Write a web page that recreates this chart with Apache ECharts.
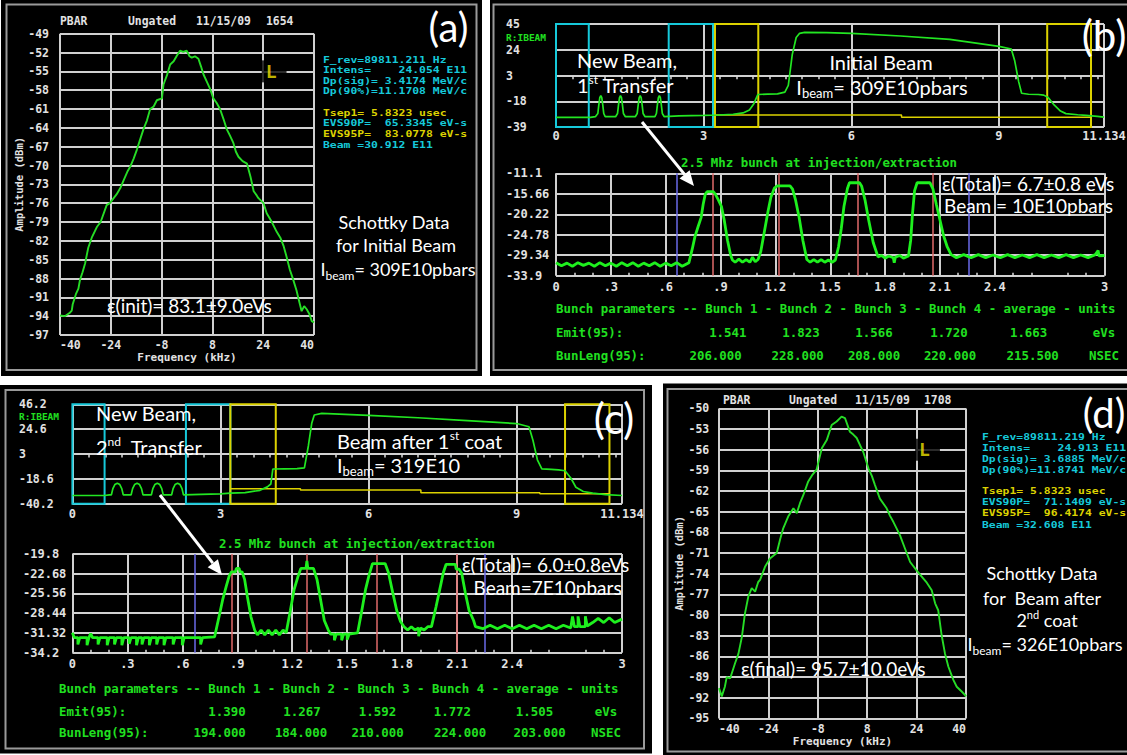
<!DOCTYPE html>
<html>
<head>
<meta charset="utf-8">
<title>Schottky and bunch monitor</title>
<script src="https://cdn.jsdelivr.net/npm/echarts@6/dist/echarts.min.js"></script>
<style>
  html, body { margin: 0; padding: 0; background: #ffffff; }
  #chart { width: 1127px; height: 755px; }
</style>
</head>
<body>
<div id="chart"></div>
<script>
// ---------- Schottky spectra: [frequency kHz, amplitude dBm] ----------
const schottkyInit = [[-40,-93.9],[-38.5,-94.0],[-37,-93.5],[-36.3,-93.1],[-36,-92.1],[-35,-90.5],[-34.2,-89.6],[-33.7,-88.2],[-32.9,-87.0],[-32.1,-85.6],[-31.1,-83.1],[-30,-81.5],[-28.4,-79.8],[-27.2,-79.0],[-25.3,-76.3],[-24.3,-76.0],[-22.2,-74.6],[-21,-73.6],[-20,-72.4],[-18.8,-71.0],[-17.9,-70.2],[-16.8,-68.9],[-15.8,-67.5],[-14.6,-65.6],[-13.7,-64.2],[-12.6,-62.8],[-11.6,-61.0],[-10.5,-60.6],[-9.5,-59.6],[-7.9,-59.3],[-7.4,-57.1],[-6.3,-55.6],[-5.3,-53.9],[-4.2,-53.4],[-3.2,-52.5],[-2.2,-51.7],[-1.2,-51.9],[-0.1,-51.7],[0.8,-52.6],[1.5,-52.8],[2.5,-52.6],[3.6,-53.0],[4.4,-54.2],[5.2,-55.5],[6.2,-56.6],[7.2,-57.7],[8.3,-59.3],[9.3,-60.0],[10.4,-61.0],[11.5,-62.6],[12.5,-64.2],[13.5,-65.2],[14.6,-66.4],[15.4,-67.8],[16.2,-68.6],[17.5,-69.3],[18.9,-69.7],[20,-71.8],[21,-74.1],[22,-74.8],[22.5,-75.2],[23.3,-75.6],[24.1,-76.0],[25.1,-77.6],[26.5,-78.8],[28.3,-80.6],[29.4,-81.5],[30.4,-82.8],[31.4,-84.6],[32.4,-86.6],[33.4,-88.1],[34.5,-89.9],[35.3,-91.6],[36.1,-93.2],[36.9,-92.4],[37.7,-92.9],[38.5,-93.6],[39.3,-94.8],[40,-95.0]];

const schottkyFinal = [[-40,-90.6],[-39.1,-91.8],[-38.1,-90.4],[-37.5,-89.0],[-36.4,-89.2],[-34.8,-87.0],[-33.7,-85.6],[-32.6,-83.2],[-31.6,-79.8],[-30.5,-77.3],[-29.4,-76.1],[-28.3,-76.6],[-27.3,-75.2],[-26.7,-74.9],[-25.1,-73.0],[-23.5,-71.8],[-21.3,-71.0],[-20.2,-69.0],[-19.2,-67.4],[-17.6,-65.7],[-15.9,-64.5],[-14.8,-65.2],[-13.8,-63.8],[-12.7,-62.6],[-11.1,-60.6],[-9.7,-59.6],[-8.4,-58.9],[-6.7,-55.8],[-5.1,-54.6],[-3.5,-52.4],[-1.9,-51.9],[-0.3,-51.2],[0.8,-51.4],[2.4,-53.4],[3.5,-53.8],[4.6,-54.3],[6.7,-56.3],[8.4,-58.7],[9.5,-59.8],[10.5,-61.1],[12.1,-63.1],[14.3,-64.5],[15.4,-65.6],[16.5,-66.5],[18.6,-68.4],[20.2,-70.3],[21.9,-72.3],[24.0,-73.5],[26.2,-74.7],[27.3,-75.3],[28.9,-76.4],[30.0,-78.3],[31.0,-79.3],[32.1,-82.9],[33.2,-85.6],[34.3,-87.5],[35.9,-89.4],[37.0,-90.4],[38.6,-91.1],[39.7,-91.6],[40,-91.8]];

// cursor "L" position on both spectra [kHz, dBm]
const cursorInit = [24, -55];
const cursorFinal = [24, -56];

// ---------- R:IBEAM traces: [time, level] ----------
const ibeamB = [[0,-31.1],[0.7,-31.1],[0.8,-30.6],[0.85,-28],[0.87,-21],[0.89,-15],[0.91,-13.5],[0.93,-15],[0.95,-21],[0.97,-28],[1.0,-30.6],
  [1.21,-30.6],[1.25,-28],[1.27,-21],[1.29,-15],[1.31,-13.5],[1.33,-15],[1.35,-21],[1.37,-28],[1.41,-30.6],
  [1.61,-30.6],[1.65,-28],[1.67,-21],[1.69,-15],[1.71,-13.5],[1.73,-15],[1.75,-21],[1.77,-28],[1.81,-30.6],
  [2.01,-30.6],[2.04,-28],[2.06,-21],[2.08,-15],[2.10,-13.5],[2.12,-15],[2.14,-21],[2.16,-28],[2.2,-30.6],
  [2.5,-30.0],[3.0,-29.6],[3.3,-29.2],[3.6,-28.6],[3.8,-27.5],[3.93,-25.1],[4.02,-20],[4.1,-12.5],[4.3,-12.2],[4.5,-12.0],[4.65,-10.5],[4.72,-5],[4.8,20],[4.88,34],[4.95,37.4],[5.05,38.2],[5.5,38.0],[6,37.4],[7,35.2],[8,32.5],[9,26.8],[9.25,24.6],[9.32,15],[9.4,-2],[9.46,-11.5],[9.6,-12.3],[9.8,-12.5],[9.91,-13],[10.0,-15],[10.12,-21],[10.25,-26],[10.36,-28.1],[10.6,-29],[10.77,-29.5],[11.0,-30.3],[11.134,-31]];
const gateLevelB = [[3.23,-29.2],[7.02,-29.2],[7.02,-31.1],[10.87,-31.1]];
const cyanGatesB = [[0, 0.666], [2.29, 3.19]];
const yellowGatesB = [[3.23, 4.11], [9.98, 10.87]];

const ibeamC = [[0,-33.0],[0.65,-33.0],[0.75,-32.4],[0.79,-32.4],[0.82,-27],[0.86,-23.5],[0.91,-22.3],[0.96,-23.5],[1.0,-27],[1.03,-32.4],
  [1.19,-32.4],[1.22,-27],[1.26,-23.5],[1.31,-22.3],[1.36,-23.5],[1.40,-27],[1.43,-32.4],
  [1.60,-32.4],[1.63,-27],[1.67,-23.5],[1.72,-22.3],[1.77,-23.5],[1.81,-27],[1.84,-32.4],
  [2.01,-32.4],[2.04,-27],[2.08,-23.5],[2.13,-22.3],[2.18,-23.5],[2.22,-27],[2.25,-32.4],
  [2.6,-32.0],[3.0,-31.6],[3.2,-31.0],[3.5,-30.5],[3.8,-28.5],[3.95,-25.5],[4.02,-23],[4.06,-10],[4.3,-9.8],[4.55,-9.6],[4.7,-9],[4.78,10],[4.85,30],[4.9,36.9],[5.05,38.3],[6,36.5],[7,34.5],[8,32],[9,29.5],[9.25,26.7],[9.33,15],[9.42,-2],[9.51,-9.8],[9.7,-10.3],[9.85,-10.8],[9.98,-11.5],[10.1,-18],[10.2,-25.8],[10.35,-29.5],[10.54,-31],[10.8,-32.2],[11.134,-33]];
const gateLevelC = [[3.2,-27.1],[4.62,-27.1],[4.62,-28.3],[7.06,-28.3],[7.06,-30.6],[9.47,-30.6],[9.47,-31.4],[10.88,-31.4]];
const cyanGatesC = [[0, 0.652], [2.30, 3.20]];
const yellowGatesC = [[3.20, 4.12], [9.98, 10.88]];

// ---------- 2.5 MHz bunch profiles: [time, level] ----------
const bunchB = [[0,-31.0],[0.03,-31.7],[0.06,-31.1],[0.09,-31.8],[0.12,-31.0],[0.15,-31.6],[0.18,-31.1],[0.21,-31.8],[0.24,-31.0],[0.27,-31.7],[0.30,-31.1],[0.33,-31.8],[0.36,-31.0],[0.39,-31.7],[0.42,-31.0],[0.45,-31.8],[0.48,-31.1],[0.51,-31.7],[0.54,-31.0],[0.57,-31.8],[0.60,-31.1],[0.63,-31.7],[0.66,-31.0],[0.69,-31.8],[0.727,-31.0],
  [0.745,-28],[0.76,-25.2],[0.777,-23],[0.794,-20.9],[0.805,-18],[0.816,-15.8],[0.826,-15.2],[0.86,-15.2],[0.872,-15.8],[0.888,-17],[0.905,-18.5],[0.92,-21.5],[0.938,-26],[0.955,-29.3],[0.965,-30.4],
  [0.98,-30.9],[1.0,-30.2],[1.02,-30.9],[1.04,-30.3],[1.06,-30.9],[1.075,-29.8],[1.09,-30.8],[1.105,-30.3],
  [1.12,-28.5],[1.14,-24],[1.16,-19.5],[1.175,-16.5],[1.194,-14.4],[1.21,-13.9],[1.28,-13.9],[1.294,-14.6],[1.31,-17],[1.33,-21],[1.35,-26],[1.372,-30.3],
  [1.39,-30.9],[1.41,-30.3],[1.43,-30.9],[1.45,-30.3],[1.47,-30.9],[1.49,-30.4],[1.51,-30.9],[1.528,-30.4],
  [1.545,-27.5],[1.56,-23.5],[1.575,-18.5],[1.594,-14.5],[1.605,-13.2],[1.66,-13.2],[1.672,-14],[1.69,-17],[1.71,-21.5],[1.735,-26.5],[1.761,-29.7],
  [1.78,-29.4],[1.8,-30.0],[1.82,-29.5],[1.845,-29.9],[1.85,-31.0],[1.856,-29.8],[1.88,-29.4],[1.9,-30.0],[1.928,-29.5],
  [1.94,-26],[1.95,-20],[1.961,-15],[1.975,-13.2],[2.045,-13.2],[2.061,-14.5],[2.08,-18],[2.1,-21.5],[2.12,-25],[2.14,-27.5],[2.161,-29.2],
  [2.19,-29.9],[2.23,-29.2],[2.27,-29.9],[2.31,-29.2],[2.35,-29.9],[2.39,-29.3],[2.43,-29.9],[2.47,-29.2],[2.51,-29.9],[2.55,-29.3],[2.59,-29.9],[2.63,-29.2],[2.67,-29.9],[2.71,-29.3],[2.75,-29.9],[2.79,-29.2],[2.83,-29.9],[2.87,-29.3],[2.91,-29.9],[2.95,-29.2],[2.965,-28.3],[2.97,-29.5],[3.0,-29.4]];
const bunchCentersB = [0.861, 1.221, 1.646, 2.057];
const bunchWindowB = [0.660, 2.257];

const bunchC = [[0,-31.3],[0.01,-32.0],[0.03,-32.0],[0.03,-33.0],[0.04,-32.0],[0.08,-32.0],[0.08,-33.1],[0.09,-32.0],[0.1,-31.4],[0.11,-32.0],[0.14,-32.0],[0.14,-33.0],[0.15,-32.0],[0.19,-32.0],[0.19,-33.1],[0.2,-32.0],[0.23,-32.0],[0.23,-33.0],[0.24,-32.0],[0.27,-32.0],[0.27,-33.1],[0.28,-32.0],[0.31,-32.0],[0.31,-32.9],[0.32,-32.0],[0.35,-32.0],[0.35,-33.1],[0.36,-32.0],[0.38,-32.0],[0.38,-33.0],[0.39,-32.0],[0.42,-32.0],[0.42,-33.1],[0.43,-32.0],[0.46,-32.0],[0.46,-33.0],[0.47,-32.0],[0.5,-32.0],[0.5,-33.1],[0.51,-32.0],[0.55,-32.0],[0.55,-33.0],[0.56,-32.0],[0.6,-32.0],[0.6,-33.1],[0.61,-32.0],[0.7,-32.0],[0.7,-33.0],[0.71,-32.0],[0.776,-31.9],
  [0.80,-29],[0.82,-26.5],[0.84,-24.5],[0.856,-23],[0.868,-22.4],[0.89,-22.4],[0.895,-21.9],[0.91,-21.9],[0.915,-22.4],[0.926,-22.4],[0.94,-23.5],[0.955,-26],[0.975,-29],[0.995,-30.9],
  [1.01,-31.6],[1.03,-30.9],[1.05,-31.6],[1.07,-30.9],[1.09,-31.6],[1.11,-30.9],[1.13,-31.6],[1.15,-30.9],[1.167,-31.3],
  [1.19,-28],[1.21,-25],[1.23,-23.2],[1.247,-21.9],[1.275,-21.9],[1.28,-20.8],[1.285,-21.9],[1.316,-21.9],[1.335,-23.5],[1.355,-26.5],[1.375,-29.5],[1.397,-30.9],
  [1.41,-31.5],[1.43,-31.5],[1.43,-32.4],[1.44,-31.5],[1.47,-31.5],[1.47,-32.4],[1.48,-31.5],[1.5,-31.5],[1.5,-32.3],[1.51,-31.5],[1.557,-31.3],
  [1.58,-28],[1.6,-25],[1.62,-22.8],[1.638,-21.2],[1.707,-21.2],[1.725,-22.5],[1.745,-25],[1.77,-28],[1.79,-29.6],[1.81,-30.4],
  [1.83,-30.9],[1.85,-30.4],[1.87,-30.9],[1.89,-30.6],[1.89,-31.8],[1.9,-30.6],[1.92,-30.9],[1.94,-30.4],[1.96,-30.4],
  [1.985,-27.5],[2.005,-25],[2.025,-22.5],[2.04,-21.3],[2.09,-21.3],[2.095,-22.0],[2.11,-22.0],[2.125,-22.6],[2.145,-25.5],[2.165,-28],[2.19,-29.5],[2.2,-30.4],
  [2.24,-30.7],[2.28,-30.2],[2.32,-30.7],[2.36,-30.2],[2.4,-30.7],[2.44,-30.2],[2.48,-30.7],[2.52,-30.2],[2.56,-30.7],[2.6,-30.2],[2.64,-30.7],[2.68,-30.2],[2.72,-30.6],[2.73,-28.9],[2.74,-30.4],[2.76,-30.4],[2.76,-28.9],[2.77,-30.4],[2.8,-30.4],[2.8,-28.9],[2.81,-30.3],[2.84,-29.8],[2.87,-29.2],[2.9,-29.8],[2.93,-29.1],[2.96,-29.8],[3.0,-29.3]];
const bunchCentersC = [0.868, 1.282, 1.656, 2.104];
const bunchWindowC = [0.669, 2.254];

// bunch-plot grid columns (no line at 2.7)
const bunchGridX = [0, 0.3, 0.6, 0.9, 1.2, 1.5, 1.8, 2.1, 2.4, 3];

// ---------- bunch parameter tables ----------
const tableHeader = 'Bunch parameters -- Bunch 1 - Bunch 2 - Bunch 3 - Bunch 4 - average - units';
const emitB = ['1.541', '1.823', '1.566', '1.720', '1.663'];
const lengthB = ['206.000', '228.000', '208.000', '220.000', '215.500'];
const emitC = ['1.390', '1.267', '1.592', '1.772', '1.505'];
const lengthC = ['194.000', '184.000', '210.000', '224.000', '203.000'];

// ---------- monitor readouts ----------
const readoutInit = ['F_rev=89811.211 Hz', 'Intens=    24.054 E11', 'Dp(sig)= 3.4174 MeV/c', 'Dp(90%)=11.1708 MeV/c', 'Tsep1= 5.8323 usec', 'EVS90P=  65.3345 eV-s', 'EVS95P=  83.0778 eV-s', 'Beam =30.912 E11'];
const readoutFinal = ['F_rev=89811.219 Hz', 'Intens=    24.913 E11', 'Dp(sig)= 3.6885 MeV/c', 'Dp(90%)=11.8741 MeV/c', 'Tsep1= 5.8323 usec', 'EVS90P=  71.1409 eV-s', 'EVS95P=  96.4174 eV-s', 'Beam =32.608 E11'];

// ---------- styling ----------
const MONO = "'DejaVu Sans Mono', monospace";
const SANS = "Lato, 'Noto Sans', sans-serif";
const LABEL = '#e2e2e2';
const GRID = '#d0d0d0';
const CURVE = '#26dc26';
const TRACE = '#22e622';
const BUNCH = '#1ef01e';
const TGREEN = '#20e020';
const CYAN = '#16c9da';
const YELLOW = '#dcd200';
const RED = '#e06a6a';
const BLUE = '#6a6ae8';

function lab(size, extra) {
  return Object.assign({ color: LABEL, fontFamily: MONO, fontWeight: 'bold', fontSize: size }, extra || {});
}
function round(v, d) { const p = Math.pow(10, d); return String(Math.round(v * p) / p); }

function freqXAxis(gi, margin, nameGap) {
  return {
    gridIndex: gi, type: 'value', min: -40, max: 40, interval: 16,
    axisLine: { show: false }, axisTick: { show: false },
    splitLine: { show: true, lineStyle: { color: GRID, width: 2 } },
    axisLabel: lab(11.5, { margin: margin, alignMinLabel: 'left', alignMaxLabel: 'right' }),
    name: 'Frequency (kHz)', nameLocation: 'middle', nameGap: nameGap, nameTextStyle: lab(11)
  };
}
function ampYAxis(gi, min, max, margin, nameGap) {
  return {
    gridIndex: gi, type: 'value', min: min, max: max, interval: 3,
    axisLine: { show: false }, axisTick: { show: false },
    splitLine: { show: true, lineStyle: { color: GRID, width: 2 } },
    axisLabel: lab(11.5, { margin: margin }),
    name: 'Amplitude (dBm)', nameLocation: 'middle', nameRotate: 90, nameGap: nameGap, nameTextStyle: lab(10.5)
  };
}
function timeXAxis(gi, margin) {
  return {
    gridIndex: gi, type: 'value', min: 0, max: 11.134, interval: 3,
    axisLine: { show: false }, axisTick: { show: false, inside: true },
    minorTick: { show: true, splitNumber: 9, length: 3, lineStyle: { color: '#dddddd', width: 1.5 } },
    splitLine: { show: true, lineStyle: { color: GRID, width: 2 } },
    axisLabel: lab(12, { margin: margin, formatter: v => round(v, 3) })
  };
}
function bunchXAxis(gi, margin) {
  return {
    gridIndex: gi, type: 'value', min: 0, max: 3, interval: 0.3,
    axisLine: { show: false }, axisTick: { show: false, inside: true },
    minorTick: { show: true, splitNumber: 3, length: 3, lineStyle: { color: '#dddddd', width: 1.5 } },
    splitLine: { show: false },
    axisLabel: lab(12, {
      margin: margin,
      formatter: v => {
        const r = Math.round(v * 10) / 10;
        if (Math.abs(r - 2.7) < 1e-6) return '';
        return (r > 0 && r < 1) ? String(r).slice(1) : String(r);
      }
    })
  };
}
function levelYAxis(gi, min, max, interval, margin, digits, size) {
  return {
    gridIndex: gi, type: 'value', min: min, max: max, interval: interval,
    axisLine: { show: false }, axisTick: { show: false },
    splitLine: { show: true, lineStyle: { color: GRID, width: 2 } },
    axisLabel: lab(size || 12, { margin: margin, align: 'left', formatter: v => round(v, digits) })
  };
}

function line(gi, data, color, width, z) {
  return {
    type: 'line', xAxisIndex: gi, yAxisIndex: gi, data: data,
    symbol: 'none', showSymbol: false, silent: true, z: z || 3,
    lineStyle: { color: color, width: width }, itemStyle: { color: color },
    emphasis: { disabled: true }, animation: false
  };
}
function cursor(gi, point) {
  return {
    type: 'scatter', xAxisIndex: gi, yAxisIndex: gi, data: [point], z: 6, silent: true,
    symbolSize: 1, itemStyle: { color: 'rgba(0,0,0,0)' }, animation: false,
    label: {
      show: true, position: 'right', distance: -2, formatter: 'L',
      color: '#f2e600', fontFamily: MONO, fontWeight: 'bold', fontSize: 18,
      backgroundColor: '#000000', padding: [2, 10, 2, 4]
    }
  };
}
function gates(cyanGates, yellowGates) {
  const box = (g, c) => [{ xAxis: g[0], itemStyle: { color: 'rgba(0,0,0,0)', borderColor: c, borderWidth: 2 } }, { xAxis: g[1] }];
  return {
    silent: true, z: 1, label: { show: false },
    data: cyanGates.map(g => box(g, CYAN)).concat(yellowGates.map(g => box(g, YELLOW)))
  };
}
function bunchMarks(centers, windowEdges) {
  const v = (x, c, w) => ({ xAxis: x, lineStyle: { color: c, width: w, type: 'solid' } });
  return {
    silent: true, z: 1, symbol: 'none', label: { show: false }, animation: false,
    data: bunchGridX.map(x => v(x, GRID, 2))
      .concat(windowEdges.map(x => v(x, BLUE, 1.5)))
      .concat(centers.map(x => v(x, RED, 1.5)))
  };
}

// ---------- overlay graphics ----------
function rect(x, y, w, h) {
  return { type: 'rect', z: -20, silent: true, shape: { x: x, y: y, width: w, height: h }, style: { fill: '#000000' } };
}
function frame(x, y, w, h) {
  return { type: 'rect', z: -10, silent: true, shape: { x: x, y: y, width: w, height: h }, style: { fill: 'none', stroke: '#9a9a9a', lineWidth: 2 } };
}
function txt(x, y, text, o) {
  const s = Object.assign({
    text: text, fill: '#ffffff', fontFamily: SANS, fontSize: 18, fontWeight: 'normal',
    align: 'left', textAlign: 'left', verticalAlign: 'middle', textVerticalAlign: 'middle'
  }, o || {});
  if (o && o.align) s.textAlign = o.align;
  return { type: 'text', x: x, y: y, z: 50, silent: true, style: s };
}
function mono(x, y, text, color, size, align) {
  return txt(x, y, text, { fill: color, fontFamily: MONO, fontWeight: 'bold', fontSize: size || 11, align: align || 'left' });
}
function arrow(x1, y1, x2, y2) {
  const dx = x2 - x1, dy = y2 - y1, L = Math.sqrt(dx * dx + dy * dy);
  const ux = dx / L, uy = dy / L, hl = 15, hw = 6.5;
  const bx = x2 - ux * hl, by = y2 - uy * hl;
  return [
    { type: 'line', z: 55, silent: true, shape: { x1: x1, y1: y1, x2: bx, y2: by }, style: { stroke: '#ffffff', lineWidth: 3 } },
    { type: 'polygon', z: 55, silent: true, shape: { points: [[x2, y2], [bx - uy * hw, by + ux * hw], [bx + uy * hw, by - ux * hw]] }, style: { fill: '#ffffff' } }
  ];
}
function richText(x, y, text, size, align) {
  return {
    type: 'text', x: x, y: y, z: 50, silent: true,
    style: {
      text: text, align: align, textAlign: align, verticalAlign: 'middle', textVerticalAlign: 'middle',
      fill: '#ffffff', fontFamily: SANS, fontSize: size,
      rich: {
        n: { fill: '#ffffff', fontFamily: SANS, fontSize: size },
        s: { fill: '#ffffff', fontFamily: SANS, fontSize: Math.round(size * 0.66), padding: [12, 0, 0, 0] },
        p: { fill: '#ffffff', fontFamily: SANS, fontSize: Math.round(size * 0.62), padding: [0, 0, 11, 0] }
      }
    }
  };
}
// monitor readout lines: the wide, short CRT glyphs are a compact mono font stretched sideways
function readout(x, y0, lines, step) {
  const colors = [CYAN, CYAN, CYAN, CYAN, YELLOW, CYAN, YELLOW, CYAN];
  const rows = [0, 1, 2, 3, 5, 6, 7, 8.1];
  return lines.map((t, i) => Object.assign(mono(x, y0 + rows[i] * step, t, colors[i], 9.2), { scaleX: 1.24, scaleY: 1 }));
}
function table(x, yHead, yEmit, yLen, emit, len, emitX, lenX, unitX) {
  const out = [mono(x, yHead, tableHeader, TGREEN, 12.4), mono(x, yEmit, 'Emit(95):', TGREEN, 12.4), mono(x, yLen, 'BunLeng(95):', TGREEN, 12.4)];
  emit.forEach((t, i) => out.push(mono(emitX[i], yEmit, t, TGREEN, 12.4, 'center')));
  len.forEach((t, i) => out.push(mono(lenX[i], yLen, t, TGREEN, 12.4, 'center')));
  out.push(mono(unitX, yEmit, 'eVs', TGREEN, 12.4, 'center'));
  out.push(mono(unitX, yLen, 'NSEC', TGREEN, 12.4, 'center'));
  return out;
}

const graphics = [
  rect(1, 0, 481, 376), rect(490, 0, 637, 376), rect(0, 385, 652, 368.5), rect(663, 383.5, 464, 371.5),
  frame(6.5, 4.5, 470, 365.5), frame(493.5, 4.5, 660, 365.5), frame(5.5, 390, 638.5, 358.5), frame(667.5, 389, 500, 362.5),

  // panel (a)
  mono(60, 21, 'PBAR', LABEL, 11.4), mono(128, 21, 'Ungated', LABEL, 11.4), mono(196, 21, '11/15/09', LABEL, 11.4), mono(266, 21, '1654', LABEL, 11.4),
  txt(448.5, 27, '(a)', { fontSize: 40, align: 'center' }),
  ...readout(323, 59, readoutInit, 10.6),
  txt(394, 222, 'Schottky Data', { align: 'center' }),
  txt(396, 245, 'for Initial Beam', { align: 'center' }),
  richText(398, 269, '{n|I}{s|beam}{n|= 309E10pbars}', 18, 'center'),
  txt(107, 305, 'ε(init)= 83.1±9.0eVs', { fontSize: 19 }),

  // panel (b)
  mono(506, 37.5, 'R:IBEAM', TGREEN, 9.5),
  txt(1104, 35, '(b)', { fontSize: 42, align: 'center' }),
  txt(577, 60, 'New Beam,', { fontSize: 20 }),
  richText(577, 85, '{n|1}{p|st}{n| Transfer}', 20, 'left'),
  txt(881, 62, 'Initial Beam', { fontSize: 20, align: 'center' }),
  richText(882, 87, '{n|I}{s|beam}{n|= 309E10pbars}', 20, 'center'),
  ...arrow(642, 122, 694, 186),
  mono(819, 162, '2.5 Mhz bunch at injection/extraction', TGREEN, 12.4, 'center'),
  txt(942, 183, 'ε(Total)= 6.7±0.8 eVs', { fontSize: 19 }),
  txt(944, 205, 'Beam = 10E10pbars', { fontSize: 19 }),
  ...table(556, 308, 332, 355, emitB, lengthB, [727.8, 801, 874, 949, 1028.6], [715.6, 797.7, 874, 950, 1032.7], 1104),

  // panel (c)
  mono(19, 416.5, 'R:IBEAM', TGREEN, 9.5),
  txt(614, 418, '(c)', { fontSize: 42, align: 'center' }),
  txt(96, 413, 'New Beam,', { fontSize: 20 }),
  richText(96, 447, '{n|2}{p|nd}{n|  Transfer}', 20, 'left'),
  richText(337, 441, '{n|Beam after 1}{p|st}{n| coat}', 20, 'left'),
  richText(337, 465, '{n|I}{s|beam}{n|= 319E10}', 20, 'left'),
  ...arrow(160, 495, 222, 575),
  mono(357, 543, '2.5 Mhz bunch at injection/extraction', TGREEN, 12.4, 'center'),
  txt(462, 564, 'ε(Total)= 6.0±0.8eVs', { fontSize: 19 }),
  txt(473.5, 587, 'Beam=7E10pbars', { fontSize: 19 }),
  ...table(59, 688, 711, 732.5, emitC, lengthC, [227, 302, 377.5, 452.4, 534.5], [219.7, 301, 377.5, 460, 539.6], 606),

  // panel (d)
  mono(723, 400, 'PBAR', LABEL, 11.4), mono(789, 400, 'Ungated', LABEL, 11.4), mono(855, 400, '11/15/09', LABEL, 11.4), mono(924, 400, '1708', LABEL, 11.4),
  txt(1104, 413, '(d)', { fontSize: 40, align: 'center' }),
  ...readout(982, 436.7, readoutFinal, 10.8),
  txt(1042, 573, 'Schottky Data', { align: 'center' }),
  txt(1042, 598, 'for  Beam after', { align: 'center' }),
  richText(1047, 620, '{n|2}{p|nd}{n| coat}', 18, 'center'),
  richText(1045, 644, '{n|I}{s|beam}{n|= 326E10pbars}', 18, 'center'),
  txt(741, 668, 'ε(final)= 95.7±10.0eVs', { fontSize: 19 })
];

const option = {
  backgroundColor: '#ffffff',
  animation: false,
  textStyle: { fontFamily: MONO },
  grid: [
    { left: 60, top: 33.7, width: 254, height: 301.3, outerBoundsMode: 'none' },
    { left: 556, top: 24, width: 548, height: 103, outerBoundsMode: 'none' },
    { left: 556, top: 173.3, width: 548.5, height: 102.4, outerBoundsMode: 'none' },
    { left: 72.4, top: 404.3, width: 549.6, height: 99.5, outerBoundsMode: 'none' },
    { left: 72.4, top: 554, width: 549.6, height: 98.7, outerBoundsMode: 'none' },
    { left: 719, top: 408.4, width: 247, height: 310, outerBoundsMode: 'none' }
  ],
  xAxis: [
    freqXAxis(0, 4, 16),
    timeXAxis(1, 3),
    bunchXAxis(2, 5),
    timeXAxis(3, 4),
    bunchXAxis(4, 5),
    freqXAxis(5, 4.5, 18)
  ],
  yAxis: [
    ampYAxis(0, -97, -49, 11, 36),
    levelYAxis(1, -39, 45, 21, 50, 0, 11.5),
    levelYAxis(2, -33.9, -11.1, 4.56, 50, 2),
    levelYAxis(3, -40.2, 46.2, 21.6, 53.4, 1, 11.5),
    levelYAxis(4, -34.2, -19.8, 2.88, 49.4, 2),
    ampYAxis(5, -95, -50, 9.7, 35)
  ],
  series: [
    line(0, schottkyInit, CURVE, 1.9),
    cursor(0, cursorInit),
    Object.assign(line(1, ibeamB, TRACE, 1.7), { markArea: gates(cyanGatesB, yellowGatesB) }),
    line(1, gateLevelB, YELLOW, 1.5, 2),
    Object.assign(line(2, bunchB, BUNCH, 2.8), { markLine: bunchMarks(bunchCentersB, bunchWindowB) }),
    Object.assign(line(3, ibeamC, TRACE, 1.7), { markArea: gates(cyanGatesC, yellowGatesC) }),
    line(3, gateLevelC, YELLOW, 1.5, 2),
    Object.assign(line(4, bunchC, BUNCH, 2.8), { markLine: bunchMarks(bunchCentersC, bunchWindowC) }),
    line(5, schottkyFinal, CURVE, 1.9),
    cursor(5, cursorFinal)
  ],
  graphic: { elements: graphics }
};

const chart = echarts.init(document.getElementById('chart'), null, { renderer: 'svg', width: 1127, height: 755 });
chart.setOption(option);
</script>
</body>
</html>
